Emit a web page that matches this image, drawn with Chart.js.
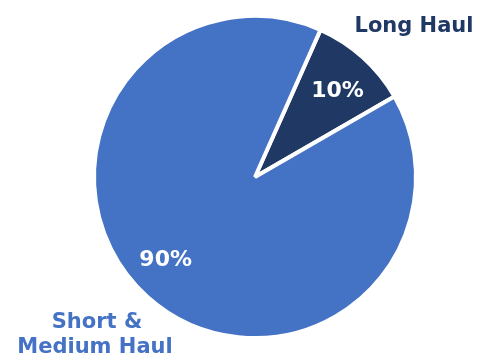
<!DOCTYPE html>
<html>
<head>
<meta charset="utf-8">
<script src="https://cdn.jsdelivr.net/npm/chart.js@4.4.1/dist/chart.umd.min.js"></script>
<style>
  html, body { margin: 0; padding: 0; background: #fff; }
  #wrap { width: 480px; height: 362px; }
</style>
</head>
<body>
<div id="wrap"><canvas id="grafica"></canvas></div>
<script>
const etiquetas = ['Long Haul', 'Short & Medium Haul'];
const valores = [10, 90];
const colores = ['#1F3864', '#4472C4'];

// text drawn on and around the slices
const sliceLabels = {
  id: 'sliceLabels',
  afterDatasetsDraw(chart) {
    const { ctx } = chart;
    const arcs = chart.getDatasetMeta(0).data;
    const total = valores.reduce((a, b) => a + b, 0);
    const shift = [0.02, 0.1]; // angle nudge for the percent text
    ctx.save();
    ctx.font = 'bold 22px "DejaVu Sans"';
    ctx.textAlign = 'center';
    ctx.textBaseline = 'middle';
    ctx.fillStyle = '#fff';
    arcs.forEach((arc, i) => {
      const mid = (arc.startAngle + arc.endAngle) / 2 + shift[i];
      const r = arc.outerRadius * 0.75;
      const pct = Math.round((valores[i] / total) * 100) + '%';
      ctx.fillText(pct, arc.x + Math.cos(mid) * r, arc.y + Math.sin(mid) * r + 2);
    });

    ctx.font = 'bold 21px "DejaVu Sans"';
    ctx.textBaseline = 'alphabetic';
    ctx.fillStyle = colores[0];
    ctx.fillText('Long Haul', 414, 32);
    ctx.fillStyle = colores[1];
    ctx.fillText('Short &', 97, 328);
    ctx.fillText('Medium Haul', 95, 353);
    ctx.restore();
  },
};

// eslint-disable-next-line no-new, no-undef
new Chart(document.querySelector('#grafica'), {
  type: 'pie',
  data: {
    labels: etiquetas,
    datasets: [{
      data: valores,
      backgroundColor: colores,
      borderColor: '#fff',
      borderWidth: 4,
    }],
  },
  options: {
    responsive: true,
    maintainAspectRatio: false,
    devicePixelRatio: 1,
    animation: false,
    rotation: 24,
    radius: 161,
    layout: { padding: { left: 30, right: 0, top: 0, bottom: 8 } },
    plugins: {
      legend: { display: false },
      tooltip: { enabled: false },
    },
  },
  plugins: [sliceLabels],
});
</script>
</body>
</html>
